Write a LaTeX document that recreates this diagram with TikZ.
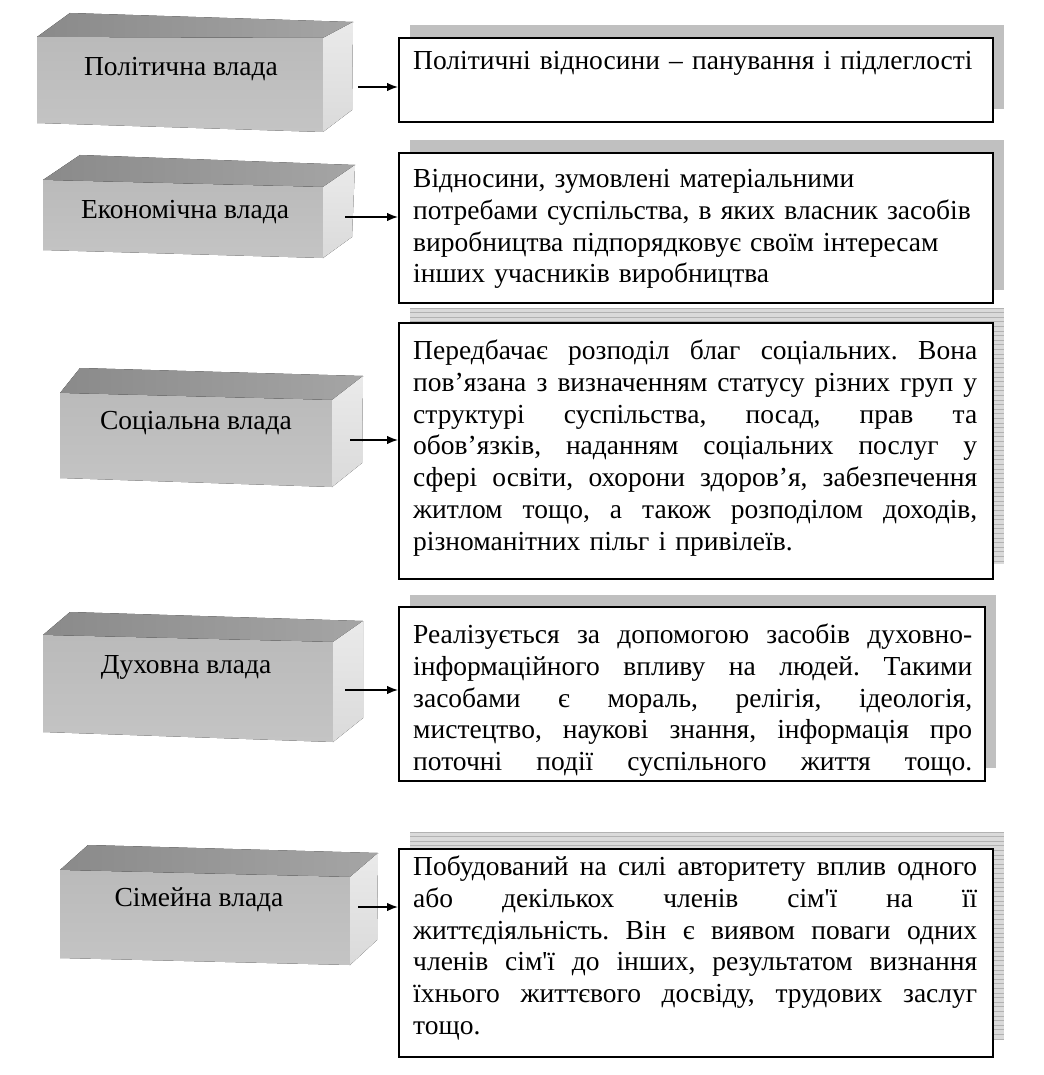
\documentclass[tikz,border=0pt]{standalone}
\usepackage{fontspec}
\setmainfont{Liberation Serif}
\usetikzlibrary{arrows.meta}
\definecolor{topL}{RGB}{138,138,138}
\definecolor{topR}{RGB}{165,165,165}
\definecolor{frontT}{RGB}{186,186,186}
\definecolor{frontB}{RGB}{196,196,196}
\definecolor{sideT}{RGB}{234,234,234}
\definecolor{sideB}{RGB}{218,218,218}
\definecolor{shadowgray}{RGB}{192,192,192}
\definecolor{stripebg}{RGB}{218,218,218}
\definecolor{stripeln}{RGB}{178,178,178}
\newcommand\mycube[7]{%
  \fill[topface] #5 -- #6 -- #2 -- #1 -- cycle;
  \fill[frontface] #1 -- #2 -- #3 -- #4 -- cycle;
  \fill[sideface] #2 -- #6 -- #7 -- #3 -- cycle;}
\newcommand\jl[2][564pt]{\leavevmode\hbox to #1{\spaceskip=0.25em plus 1fil minus 0.08em\relax\strut #2}}
\newcommand\stripedshadow[4]{%
  \begin{scope}
    \clip (#1,#2) rectangle (#3,#4);
    \fill[stripebg] (#1,#2) rectangle (#3,#4);
    \foreach \k in {0,...,60} \draw[stripeln, line width=0.8pt] (#1,#2+4.6*\k) -- (#3,#2+4.6*\k);
  \end{scope}}
\tikzset{
  topface/.style={left color=topL, right color=topR},
  frontface/.style={top color=frontT, bottom color=frontB},
  sideface/.style={top color=sideT, bottom color=sideB},
  lbl/.style={inner sep=0pt, font=\fontsize{27.5}{31.8}\selectfont},
  rbox/.style={draw=black, line width=1.6pt, fill=white, anchor=north west, inner sep=0pt},
  txt/.style={anchor=north west, inner sep=0pt, text width=564pt, align=left, font=\fontsize{27.5}{31.8}\selectfont\frenchspacing},
  arr/.style={line width=1.4pt, -{Latex[length=11pt,width=8.5pt]}},
  shadowbox/.style={fill=shadowgray}
}
\begin{document}
\begin{tikzpicture}[x=1pt,y=-1pt]
\useasboundingbox (0,0) rectangle (1043,1075);
\fill[white] (0,0) rectangle (1043,1075);

% ---- cubes
\mycube{(37,37)}{(323,38)}{(323,132)}{(37,123)}{(70,13)}{(353,22)}{(352,110)}
\mycube{(43,180)}{(323,187)}{(323,258)}{(43,250)}{(80,155)}{(355,165)}{(352,237)}
\mycube{(60,393)}{(332,400)}{(332,487)}{(60,478)}{(80,368)}{(363,376)}{(362,463)}
\mycube{(43,635)}{(333,642)}{(333,742)}{(43,732)}{(70,612)}{(363,621)}{(363,718)}
\mycube{(60,870)}{(350,877)}{(350,965)}{(60,958)}{(88,845)}{(378,853)}{(377,940)}

\node[lbl] (c1) at (181,69) {Політична влада};
\node[lbl] (c2) at (185,212) {Економічна влада};
\node[lbl] (c3) at (196,423) {Соціальна влада};
\node[lbl] (c4) at (186,667) {Духовна влада};
\node[lbl] (c5) at (199,900) {Сімейна влада};

% ---- shadows
\fill[shadowbox] (410,25) rectangle (1004,109);
\fill[shadowbox] (410,140) rectangle (1004,290);
\stripedshadow{410}{308}{1004}{564}
\fill[shadowbox] (410,595) rectangle (996,768);
\stripedshadow{410}{832}{1004}{1040}

% ---- right boxes
\node[rbox, minimum width=594pt, minimum height=84pt] (r1) at (398,37) {};
\node[rbox, minimum width=594pt, minimum height=150pt] (r2) at (398,152) {};
\node[rbox, minimum width=594pt, minimum height=256pt] (r3) at (398,322) {};
\node[rbox, minimum width=586pt, minimum height=174pt] (r4) at (398,606) {};
\node[rbox, minimum width=594pt, minimum height=208pt] (r5) at (398,848) {};

% ---- texts
\node[txt] (t1) at (413,47) {\strut Політичні відносини – панування і підлеглості};
\node[txt] (t2) at (413,165) {\strut Відносини, зумовлені матеріальними\\
\strut потребами суспільства, в яких власник засобів\\
\strut виробництва підпорядковує своїм інтересам\\
\strut інших учасників виробництва};
\node[txt] (t3) at (413,337) {\jl{Передбачає розподіл  благ соціальних. Вона}\\
\jl{пов’язана з визначенням статусу різних груп у}\\
\jl{структурі суспільства, посад, прав та}\\
\jl{обов’язків, наданням соціальних послуг у}\\
\jl{сфері освіти, охорони здоров’я, забезпечення}\\
\jl{житлом тощо, а також розподілом доходів,}\\
\strut різноманітних пільг і привілеїв.};
\node[txt, text width=559pt] (t4) at (413,621) {\jl[559pt]{Реалізується за допомогою засобів духовно-}\\
\jl[559pt]{інформаційного впливу на людей. Такими}\\
\jl[559pt]{засобами є мораль, релігія, ідеологія,}\\
\jl[559pt]{мистецтво, наукові знання, інформація про}\\
\jl[559pt]{поточні події суспільного життя тощо.}};
\node[txt] (t5) at (413,853) {\jl{Побудований на силі авторитету вплив одного}\\
\jl{або декількох членів сім\textquotesingle ї на її}\\
\jl{життєдіяльність. Він є виявом поваги одних}\\
\jl{членів сім\textquotesingle ї до інших, результатом визнання}\\
\jl{їхнього життєвого досвіду, трудових заслуг}\\
\strut тощо.};

% ---- arrows
\coordinate (s1) at (358,87);
\coordinate (s2) at (345,217);
\coordinate (s3) at (350,440);
\coordinate (s4) at (345,690);
\coordinate (s5) at (358,907);
\draw[arr] (s1) -- (s1 -| r1.west);
\draw[arr] (s2) -- (s2 -| r2.west);
\draw[arr] (s3) -- (s3 -| r3.west);
\draw[arr] (s4) -- (s4 -| r4.west);
\draw[arr] (s5) -- (s5 -| r5.west);
\end{tikzpicture}
\end{document}
